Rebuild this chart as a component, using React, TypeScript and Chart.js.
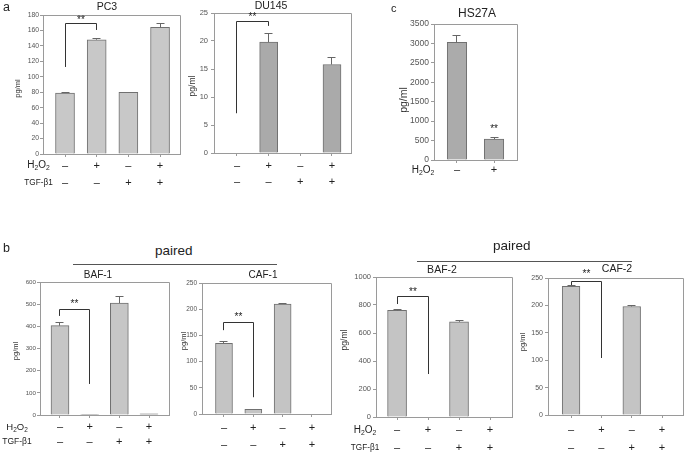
import React, { useEffect, useRef } from "react";
import { Chart, registerables } from "chart.js";
Chart.register(...registerables);

const FONT = '"Liberation Sans", Arial, Helvetica, sans-serif';
Chart.defaults.font.family = FONT;

// ---------- data ----------
const h2o2Row = ["–", "+", "–", "+"];
const tgfRow = ["–", "–", "+", "+"];
const hs27aH2o2Row = ["–", "+"];

const pc3Values = [79, 148, 80, 164];
const pc3Errors = [1, 1.5, 0, 5.5];
const pc3YTicks = [0, 20, 40, 60, 80, 100, 120, 140, 160, 180];

const du145Values = [0, 19.8, 0, 15.8];
const du145Errors = [0, 1.6, 0, 1.2];
const du145YTicks = [0, 5, 10, 15, 20, 25];

const hs27aValues = [3030, 540];
const hs27aErrors = [170, 50];
const hs27aYTicks = [0, 500, 1000, 1500, 2000, 2500, 3000, 3500];

const baf1Values = [403, 2, 505, 5];
const baf1Errors = [15, 0, 30, 0];
const baf1YTicks = [0, 100, 200, 300, 400, 500, 600];

const caf1Values = [135, 9, 210, 0];
const caf1Errors = [3, 0, 1.5, 0];
const caf1YTicks = [0, 50, 100, 150, 200, 250];

const baf2Values = [762, 0, 680, 0];
const baf2Errors = [6, 0, 8, 0];
const baf2YTicks = [0, 200, 400, 600, 800, 1000];

const caf2Values = [235, 0, 198, 0];
const caf2Errors = [1.5, 0, 1, 0];
const caf2YTicks = [0, 50, 100, 150, 200, 250];

// ---------- layout / style ----------
type Bracket = { from: number; to: number; top: number; leftBottom: number; rightBottom: number; starDy: number };
type Panel = {
  title: string;
  values: number[];
  errors: number[];
  yTicks: number[];
  rows: string[][];
  canvas: [number, number, number, number];
  plot: [number, number, number, number];
  xMin: number;
  xMax: number;
  barW: number;
  color: string;
  tickFont: number;
  tickPad: number;
  titleX: number;
  titleY: number;
  titleSize: number;
  yLabelX: number;
  yLabelY: number;
  yLabelSize: number;
  rowLH: number;
  rowPad: number;
  rowFont: number;
  rowLabels?: { cx: number; h2o2Size: number; tgfSize: number; tgf: boolean };
  bracket?: Bracket;
  star?: { index: number; value: number };
};

const FRAME = "#9a9a9a";

const panels: Panel[] = [
  {
    title: "PC3", values: pc3Values, errors: pc3Errors, yTicks: pc3YTicks, rows: [h2o2Row, tgfRow],
    canvas: [0, 0, 184, 200], plot: [43, 15, 180, 154], xMin: -0.695, xMax: 3.63, barW: 19, color: "#c8c8c8",
    tickFont: 6.8, tickPad: 1, titleX: 107, titleY: 7.5, titleSize: 10.5, yLabelX: 17.5, yLabelY: 88.5, yLabelSize: 7.5,
    rowLH: 17, rowPad: 0, rowFont: 11, rowLabels: { cx: 38.5, h2o2Size: 10, tgfSize: 8.2, tgf: true },
    bracket: { from: 0, to: 1, top: 168.4, leftBottom: 112.7, rightBottom: 160.6, starDy: 5 },
  },
  {
    title: "DU145", values: du145Values, errors: du145Errors, yTicks: du145YTicks, rows: [h2o2Row, tgfRow],
    canvas: [184, 0, 176, 200], plot: [214, 13, 351, 153], xMin: -0.726, xMax: 3.6, barW: 18, color: "#aaaaaa",
    tickFont: 7.5, tickPad: 3, titleX: 271, titleY: 6.5, titleSize: 10.5, yLabelX: 193, yLabelY: 86, yLabelSize: 8.5,
    rowLH: 16, rowPad: 2, rowFont: 11,
    bracket: { from: 0, to: 1, top: 23.4, leftBottom: 7.1, rightBottom: 22.7, starDy: 6 },
  },
  {
    title: "HS27A", values: hs27aValues, errors: hs27aErrors, yTicks: hs27aYTicks, rows: [hs27aH2o2Row],
    canvas: [380, 0, 145, 200], plot: [434, 24, 517, 160], xMin: -0.62, xMax: 1.62, barW: 19.5, color: "#ababab",
    tickFont: 8.5, tickPad: 2, titleX: 477, titleY: 13.5, titleSize: 12, yLabelX: 404, yLabelY: 100, yLabelSize: 10.5,
    rowLH: 12, rowPad: 1, rowFont: 11, rowLabels: { cx: 423, h2o2Size: 10, tgfSize: 8, tgf: false },
    star: { index: 1, value: 850 },
  },
  {
    title: "BAF-1", values: baf1Values, errors: baf1Errors, yTicks: baf1YTicks, rows: [h2o2Row, tgfRow],
    canvas: [0, 262, 180, 191], plot: [40, 282, 169, 415], xMin: -0.674, xMax: 3.674, barW: 18, color: "#c6c6c6",
    tickFont: 6.2, tickPad: 1, titleX: 98, titleY: 275, titleSize: 10, yLabelX: 15.5, yLabelY: 351, yLabelSize: 7.5,
    rowLH: 15, rowPad: 1.5, rowFont: 11, rowLabels: { cx: 17, h2o2Size: 9.5, tgfSize: 8.5, tgf: true },
    bracket: { from: 0, to: 1, top: 478, leftBottom: 447, rightBottom: 140, starDy: 7 },
  },
  {
    title: "CAF-1", values: caf1Values, errors: caf1Errors, yTicks: caf1YTicks, rows: [h2o2Row, tgfRow],
    canvas: [178, 262, 160, 191], plot: [202, 283, 331, 414], xMin: -0.75, xMax: 3.65, barW: 17, color: "#c4c4c4",
    tickFont: 6.5, tickPad: 2, titleX: 263, titleY: 275.5, titleSize: 10, yLabelX: 183.5, yLabelY: 341, yLabelSize: 7.5,
    rowLH: 17, rowPad: 2.5, rowFont: 11,
    bracket: { from: 0, to: 1, top: 174, leftBottom: 160, rightBottom: 32, starDy: 7 },
  },
  {
    title: "BAF-2", values: baf2Values, errors: baf2Errors, yTicks: baf2YTicks, rows: [h2o2Row, tgfRow],
    canvas: [338, 262, 178, 191], plot: [376, 277, 512, 417], xMin: -0.68, xMax: 3.71, barW: 19, color: "#c4c4c4",
    tickFont: 7.5, tickPad: 2, titleX: 442, titleY: 270.5, titleSize: 10.5, yLabelX: 345, yLabelY: 340, yLabelSize: 8.5,
    rowLH: 18, rowPad: 1, rowFont: 11, rowLabels: { cx: 365, h2o2Size: 10, tgfSize: 8.2, tgf: true },
    bracket: { from: 0, to: 1, top: 864, leftBottom: 807, rightBottom: 307, starDy: 6 },
  },
  {
    title: "CAF-2", values: caf2Values, errors: caf2Errors, yTicks: caf2YTicks, rows: [h2o2Row, tgfRow],
    canvas: [514, 262, 171, 191], plot: [548, 278, 683, 415], xMin: -0.76, xMax: 3.69, barW: 17.7, color: "#c4c4c4",
    tickFont: 7, tickPad: 2, titleX: 617, titleY: 269, titleSize: 10.5, yLabelX: 523, yLabelY: 342, yLabelSize: 7.5,
    rowLH: 18, rowPad: 3, rowFont: 11,
    bracket: { from: 0, to: 1, top: 244.5, leftBottom: 237, rightBottom: 104, starDy: 9 },
  },
];

function align(p: number) {
  return Math.round(p - 0.5) + 0.5;
}

function drawH2O2(ctx: CanvasRenderingContext2D, cx: number, cy: number, size: number) {
  const big = `${size}px ${FONT}`;
  const small = `${size * 0.68}px ${FONT}`;
  ctx.font = big;
  const wH = ctx.measureText("H").width;
  const wO = ctx.measureText("O").width;
  ctx.font = small;
  const w2 = ctx.measureText("2").width;
  const total = wH + wO + 2 * w2;
  let x = cx - total / 2;
  ctx.textAlign = "left";
  ctx.textBaseline = "middle";
  ctx.font = big;
  ctx.fillText("H", x, cy);
  x += wH;
  ctx.font = small;
  ctx.fillText("2", x, cy + size * 0.3);
  x += w2;
  ctx.font = big;
  ctx.fillText("O", x, cy);
  x += wO;
  ctx.font = small;
  ctx.fillText("2", x, cy + size * 0.3);
}

function makePlugin(p: Panel) {
  return {
    id: "annot",
    afterDatasetsDraw(chart: any) {
      const ctx: CanvasRenderingContext2D = chart.ctx;
      const xs = chart.scales.x;
      const ys = chart.scales.y;
      const a = chart.chartArea;
      const ox = p.canvas[0];
      const oy = p.canvas[1];
      ctx.save();
      // frame top/right
      ctx.strokeStyle = FRAME;
      ctx.lineWidth = 1;
      ctx.beginPath();
      ctx.moveTo(align(a.left), align(a.top));
      ctx.lineTo(align(a.right), align(a.top));
      ctx.lineTo(align(a.right), align(a.bottom));
      ctx.stroke();
      // error bars
      ctx.strokeStyle = "#666";
      p.values.forEach((v, i) => {
        const e = p.errors[i];
        if (!e) return;
        const x = align(xs.getPixelForValue(i));
        const y0 = ys.getPixelForValue(v);
        const y1 = align(ys.getPixelForValue(v + e));
        ctx.beginPath();
        ctx.moveTo(x, y0);
        ctx.lineTo(x, y1);
        ctx.moveTo(x - 4, y1);
        ctx.lineTo(x + 4, y1);
        ctx.stroke();
      });
      // bracket
      ctx.fillStyle = "#222";
      if (p.bracket) {
        const b = p.bracket;
        const xl = align(xs.getPixelForValue(b.from));
        const xr = align(xs.getPixelForValue(b.to));
        const yt = align(ys.getPixelForValue(b.top));
        ctx.strokeStyle = "#333";
        ctx.beginPath();
        ctx.moveTo(xl, ys.getPixelForValue(b.leftBottom));
        ctx.lineTo(xl, yt);
        ctx.lineTo(xr, yt);
        ctx.lineTo(xr, ys.getPixelForValue(b.rightBottom));
        ctx.stroke();
        ctx.font = `10px ${FONT}`;
        ctx.textAlign = "center";
        ctx.textBaseline = "middle";
        ctx.fillText("**", (xl + xr) / 2, yt - b.starDy + 2);
      }
      if (p.star) {
        ctx.font = `10px ${FONT}`;
        ctx.textAlign = "center";
        ctx.textBaseline = "middle";
        ctx.fillText("**", xs.getPixelForValue(p.star.index), ys.getPixelForValue(p.star.value) + 2);
      }
      // title
      ctx.fillStyle = "#222";
      ctx.font = `${p.titleSize}px ${FONT}`;
      ctx.textAlign = "center";
      ctx.textBaseline = "middle";
      ctx.fillText(p.title, p.titleX - ox, p.titleY - oy);
      // y label
      ctx.save();
      ctx.translate(p.yLabelX - ox, p.yLabelY - oy);
      ctx.rotate(-Math.PI / 2);
      ctx.font = `${p.yLabelSize}px ${FONT}`;
      ctx.fillStyle = "#333";
      ctx.fillText("pg/ml", 0, 0);
      ctx.restore();
      // row labels
      if (p.rowLabels) {
        const r = p.rowLabels;
        const y1 = a.bottom + 3 + p.rowPad + p.rowLH / 2;
        ctx.fillStyle = "#222";
        drawH2O2(ctx, r.cx - ox, y1, r.h2o2Size);
        if (r.tgf) {
          ctx.font = `${r.tgfSize}px ${FONT}`;
          ctx.textAlign = "center";
          ctx.textBaseline = "middle";
          ctx.fillText("TGF-β1", r.cx - ox, y1 + p.rowLH);
        }
      }
      ctx.restore();
    },
  };
}

function PanelChart({ p }: { p: Panel }) {
  const ref = useRef<HTMLCanvasElement | null>(null);
  useEffect(() => {
    if (!ref.current) return;
    const [cx, cy, cw, ch] = p.canvas;
    const [pl, pt, pr, pb] = p.plot;
    const yw = pl - cx;
    const xh = cy + ch - pb;
    const chart = new Chart(ref.current, {
      type: "bar",
      data: {
        datasets: [
          {
            data: p.values.map((v, i) => ({ x: i, y: v })),
            backgroundColor: p.color,
            borderColor: "#707070",
            borderWidth: 1,
            barThickness: p.barW,
          } as any,
        ],
      },
      options: {
        animation: false,
        responsive: false,
        maintainAspectRatio: false,
        devicePixelRatio: 1,
        layout: {
          padding: { left: 0, top: pt - cy, right: cx + cw - pr, bottom: 0 },
        },
        plugins: { legend: { display: false }, tooltip: { enabled: false }, title: { display: false } },
        scales: {
          x: {
            type: "linear",
            min: p.xMin,
            max: p.xMax,
            bounds: "data",
            offset: false,
            afterBuildTicks: (s: any) => {
              s.ticks = p.rows[0].map((_, i) => ({ value: i }));
            },
            afterFit: (s: any) => {
              s.height = xh;
            },
            ticks: {
              autoSkip: false,
              maxRotation: 0,
              padding: p.rowPad,
              color: "#222",
              font: { size: p.rowFont, lineHeight: `${p.rowLH}px` as any },
              callback: (_v: any, i: number) => p.rows.map((r) => r[i]),
            },
            grid: { display: true, drawOnChartArea: false, drawTicks: true, tickLength: 3, color: FRAME, offset: false },
            border: { display: true, color: FRAME },
          },
          y: {
            type: "linear",
            min: p.yTicks[0],
            max: p.yTicks[p.yTicks.length - 1],
            afterBuildTicks: (s: any) => {
              s.ticks = p.yTicks.map((v) => ({ value: v }));
            },
            afterFit: (s: any) => {
              s.width = yw;
            },
            ticks: {
              padding: p.tickPad,
              color: "#555",
              font: { size: p.tickFont },
              callback: (v: any) => String(v),
            },
            grid: { display: true, drawOnChartArea: false, drawTicks: true, tickLength: 3, color: FRAME },
            border: { display: true, color: FRAME },
          },
        },
      } as any,
      plugins: [makePlugin(p)],
    });
    return () => chart.destroy();
  }, [p]);
  const [cx, cy, cw, ch] = p.canvas;
  return (
    <canvas
      ref={ref}
      width={cw}
      height={ch}
      style={{ position: "absolute", left: cx, top: cy, width: cw, height: ch }}
    />
  );
}

const textStyle = (left: number, top: number, size: number): React.CSSProperties => ({
  position: "absolute",
  left,
  top,
  fontSize: size,
  lineHeight: 1,
  fontFamily: FONT,
  color: "#222",
  whiteSpace: "nowrap",
});

export default function App() {
  return (
    <div style={{ position: "fixed", left: 0, top: 0, width: 685, height: 453, background: "#fff", overflow: "hidden" }}>
      {panels.map((p) => (
        <PanelChart key={p.title} p={p} />
      ))}
      <div style={textStyle(3, 1, 12.5)}>a</div>
      <div style={textStyle(3, 242, 12.5)}>b</div>
      <div style={textStyle(391, 3, 11)}>c</div>
      <div style={textStyle(155, 244, 13.5)}>paired</div>
      <div style={textStyle(493, 239, 13.5)}>paired</div>
      <div style={{ position: "absolute", left: 73, top: 264, width: 204, height: 0, borderTop: "1px solid #555" }} />
      <div style={{ position: "absolute", left: 417, top: 261, width: 215, height: 0, borderTop: "1px solid #555" }} />
    </div>
  );
}
